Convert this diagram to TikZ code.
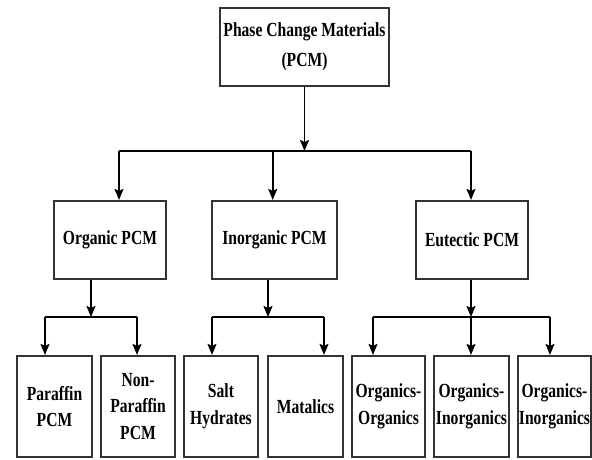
\documentclass[tikz,border=0pt]{standalone}
\usepackage{graphicx}
\usepackage{fontspec}
\setmainfont{Liberation Serif}
\newcommand{\nt}[1]{\scalebox{0.78}[1]{#1}}
\usetikzlibrary{arrows.meta}
\begin{document}
\begin{tikzpicture}[x=1pt,y=-1pt,
  box/.style={draw=black!80,line width=2.2pt,fill=white,inner sep=0pt,align=center,
    font=\fontsize{20}{26.7}\selectfont\bfseries},
  topbox/.style={box,minimum width=169pt,minimum height=78pt,font=\fontsize{20}{30}\selectfont\bfseries},
  midbox/.style={box,minimum height=78pt},
  leafbox/.style={box,minimum height=101pt},
  conn/.style={line width=1.8pt,black},
  arr/.style={conn,-{Stealth[length=11pt,width=9pt,inset=2pt]}}]
\useasboundingbox (0,0) rectangle (592,459);
% nodes
\node[topbox] (top) at (304.5,47) {\nt{Phase Change Materials}\\\nt{(PCM)}};
\node[midbox,minimum width=112pt] (org) at (110,240) {\nt{Organic PCM}};
\node[midbox,minimum width=125pt] (inorg) at (274.5,240) {\nt{Inorganic PCM}};
\node[midbox,minimum width=112pt] (eut) at (472,240) {\nt{Eutectic PCM}};
\node[leafbox,minimum width=75pt] (par) at (54.5,406.5) {\nt{Paraffin}\\\nt{PCM}};
\node[leafbox,minimum width=74pt] (npar) at (138,406.5) {\nt{Non-}\\\nt{Paraffin}\\\nt{PCM}};
\node[leafbox,minimum width=74pt] (salt) at (221,406.5) {\nt{Salt}\\\nt{Hydrates}};
\node[leafbox,minimum width=75pt] (mat) at (305.5,406.5) {\nt{Matalics}};
\node[leafbox,minimum width=73pt] (oo) at (388.5,406.5) {\nt{Organics-}\\\nt{Organics}};
\node[leafbox,minimum width=75pt] (oi1) at (471.5,406.5) {\nt{Organics-}\\\nt{Inorganics}};
\node[leafbox,minimum width=73pt] (oi2) at (554.5,406.5) {\nt{Organics-}\\\nt{Inorganics}};
% level 1 bus
\coordinate (b1) at (119,151);
\coordinate (b2) at (272.7,151);
\coordinate (b3) at (471,151);
\draw[conn] (b1) -- (b3);
\draw[arr] (top.south) -- (top.south |- b1);
\draw[arr] (b1) -- (b1 |- org.north);
\draw[arr] (b2) -- (b2 |- inorg.north);
\draw[arr] (b3) -- (b3 |- eut.north);
% organic branch
\coordinate (s1) at (91,317);
\coordinate (o1) at (45,317);
\coordinate (o2) at (137,317);
\draw[arr] (org.south -| s1) -- (s1);
\draw[conn] (o1) -- (o2);
\draw[arr] (o1) -- (o1 |- par.north);
\draw[arr] (o2) -- (o2 |- npar.north);
% inorganic branch
\coordinate (s2) at (268,317);
\coordinate (i1) at (212,317);
\coordinate (i2) at (324,317);
\draw[arr] (inorg.south -| s2) -- (s2);
\draw[conn] (i1) -- (i2);
\draw[arr] (i1) -- (i1 |- salt.north);
\draw[arr] (i2) -- (i2 |- mat.north);
% eutectic branch
\coordinate (s3) at (471,317);
\coordinate (e1) at (373,317);
\coordinate (e2) at (550,317);
\draw[arr] (eut.south -| s3) -- (s3);
\draw[conn] (e1) -- (e2);
\draw[arr] (e1) -- (e1 |- oo.north);
\draw[arr] (s3) -- (s3 |- oi1.north);
\draw[arr] (e2) -- (e2 |- oi2.north);
\end{tikzpicture}
\end{document}
